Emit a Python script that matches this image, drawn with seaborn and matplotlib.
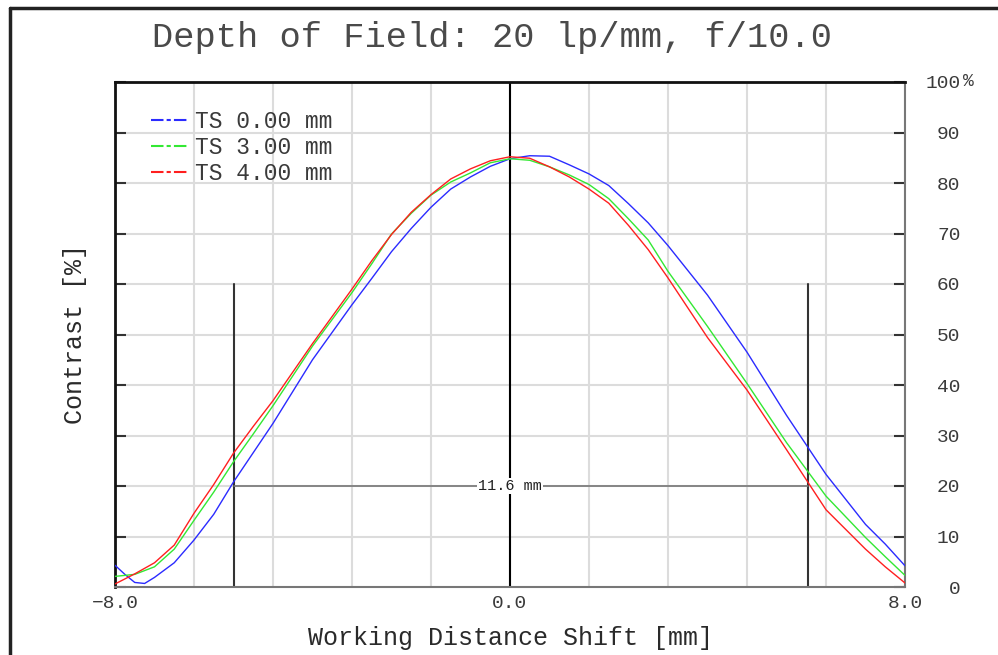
import numpy as np
import pandas as pd
import seaborn as sns
import matplotlib.pyplot as plt
from matplotlib.lines import Line2D

# 값은 그림에서 읽은 추정치 (x: mm, y: %)
x_ts0 = [-8.0, -7.8, -7.6, -7.4, -7.2, -6.8, -6.4, -6.0, -5.6, -5.2, -4.8, -4.0, -3.2, -2.8, -2.4, -2.0, -1.6,
         -1.2, -0.8, -0.4, 0.0, 0.4, 0.8, 1.2, 1.6, 2.0, 2.4, 2.8, 3.2, 4.0, 4.8, 5.6, 6.4, 7.2, 7.6, 8.0]
y_ts0 = [4.3, 2.5, 0.9, 0.7, 1.9, 4.8, 9.3, 14.4, 20.8, 26.6, 32.4, 45.0, 55.9, 61.1, 66.4, 71.0, 75.2,
         78.8, 81.2, 83.3, 84.8, 85.4, 85.3, 83.6, 81.8, 79.5, 75.9, 72.1, 67.6, 57.8, 46.5, 34.0, 22.3, 12.4, 8.5, 4.2]

x_ts3 = [-8.0, -7.6, -7.2, -6.8, -6.4, -6.0, -5.6, -5.2, -4.8, -4.0, -3.2, -2.8, -2.4, -2.0, -1.6,
         -1.2, -0.8, -0.4, 0.0, 0.4, 0.8, 1.2, 1.6, 2.0, 2.4, 2.8, 3.2, 4.0, 4.8, 5.6, 6.4, 7.2, 7.6, 8.0]
y_ts3 = [2.1, 2.5, 4.0, 7.5, 13.2, 18.8, 24.8, 30.3, 35.9, 47.7, 58.3, 64.0, 69.9, 74.0, 77.6,
         80.2, 82.0, 84.0, 84.8, 84.5, 83.2, 81.6, 79.7, 76.9, 72.9, 68.7, 62.5, 51.6, 40.3, 28.6, 18.0, 9.8, 6.0, 2.3]

x_ts4 = [-8.0, -7.6, -7.2, -6.8, -6.4, -6.0, -5.6, -5.2, -4.8, -4.0, -3.2, -2.8, -2.4, -2.0, -1.6,
         -1.2, -0.8, -0.4, 0.0, 0.4, 0.8, 1.2, 1.6, 2.0, 2.4, 2.8, 3.2, 4.0, 4.8, 5.6, 6.4, 7.2, 7.6, 8.0]
y_ts4 = [0.6, 2.6, 4.8, 8.3, 14.6, 20.3, 26.5, 31.8, 36.9, 48.2, 59.0, 64.6, 69.8, 74.2, 77.7,
         80.8, 82.8, 84.4, 85.2, 84.9, 83.2, 81.2, 78.8, 76.0, 71.6, 66.8, 61.2, 49.4, 39.0, 27.2, 15.3, 7.5, 4.0, 0.8]

labels = ['TS 0.00 mm', 'TS 3.00 mm', 'TS 4.00 mm']
colors = ['#2b2bff', '#33e833', '#ff1f1f']

dof_left = -5.59
dof_right = 6.04
dof_text = '11.6 mm'

df = pd.concat([
    pd.DataFrame({'x': x_ts0, 'y': y_ts0, 'TS': labels[0]}),
    pd.DataFrame({'x': x_ts3, 'y': y_ts3, 'TS': labels[1]}),
    pd.DataFrame({'x': x_ts4, 'y': y_ts4, 'TS': labels[2]}),
])

sns.set_style('white')
plt.rcParams['font.family'] = ['Liberation Mono', 'DejaVu Sans Mono']

fig = plt.figure(figsize=(9.98, 6.55), dpi=100)
ax = fig.add_axes([115 / 998, 68 / 655, 790 / 998, 505 / 655])

# 격자
for gx in np.arange(-8, 8.01, 1.6):
    ax.axvline(gx, color='#dcdcdc', lw=1.5, zorder=0)
for gy in range(10, 100, 10):
    ax.axhline(gy, color='#dcdcdc', lw=1.5, zorder=0)

sns.lineplot(data=df, x='x', y='y', hue='TS', palette=colors, lw=1.0,
             sort=False, legend=False, ax=ax, zorder=3)

# 피사계 심도 표시
ax.axvline(0, color='black', lw=1.5, zorder=2)
ax.plot([dof_left, dof_left], [0, 60], color='#333333', lw=1.5, zorder=2)
ax.plot([dof_right, dof_right], [0, 60], color='#333333', lw=1.5, zorder=2)
ax.plot([dof_left, dof_right], [20, 20], color='#777777', lw=1.2, zorder=2)
ax.text(0.0, 20, dof_text, ha='center', va='center', fontsize=11, color='#222222',
        bbox=dict(facecolor='white', edgecolor='none', pad=1), zorder=4)

ax.set_xlim(-8, 8)
ax.set_ylim(0, 100)
ax.set_xticks(np.arange(-8, 8.01, 1.6))
ax.set_xticklabels(['\u22128.0', '', '', '', '', '0.0', '', '', '', '', '8.0'])
ax.set_yticks(range(0, 101, 10))
ax.set_yticklabels([str(v) for v in range(0, 100, 10)] + ['100'])
ax.tick_params(axis='x', direction='in', length=8, width=1.5, color='#333333',
               labelsize=14, labelcolor='#3a3a3a', pad=6)
ax.tick_params(axis='y', direction='in', length=8, width=1.5, color='#333333',
               left=True, right=True, labelleft=False, labelright=True,
               labelsize=14, labelcolor='#3a3a3a', pad=40)
for lab in ax.get_yticklabels():
    lab.set_horizontalalignment('right')
ax.text(1.074, 1.0, '%', transform=ax.transAxes, fontsize=13, color='#3a3a3a',
        va='center', ha='left')

for side in ['left', 'top']:
    ax.spines[side].set_color('#111111')
    ax.spines[side].set_linewidth(2)
for side in ['right', 'bottom']:
    ax.spines[side].set_color('#777777')
    ax.spines[side].set_linewidth(1.5)

ax.set_xlabel('Working Distance Shift [mm]', fontsize=18, color='#2a2a2a', labelpad=10)
ax.set_ylabel('Contrast [%]', fontsize=18, color='#2a2a2a', labelpad=20)
fig.text(492 / 998, 1 - 38 / 655, 'Depth of Field: 20 lp/mm, f/10.0', ha='center',
         va='center', fontsize=25.5, color='#4a4a4a')

handles = [Line2D([0], [0], color=c, lw=1.5, linestyle=(0, (6, 1.5, 2, 1.5)))
           for c in colors]
ax.legend(handles, labels, loc='upper left', bbox_to_anchor=(0.02, 0.985),
          frameon=False, fontsize=16.5, handlelength=1.6, handletextpad=0.3,
          labelspacing=0.12, labelcolor='#3a3a3a')

# 바깥 테두리
fig.add_artist(Line2D([10 / 998, 10 / 998], [0, 1 - 8 / 655], color='#222222', lw=2.5))
fig.add_artist(Line2D([10 / 998, 1], [1 - 8 / 655, 1 - 8 / 655], color='#222222', lw=2.5))

plt.savefig('out.png', dpi=100)
